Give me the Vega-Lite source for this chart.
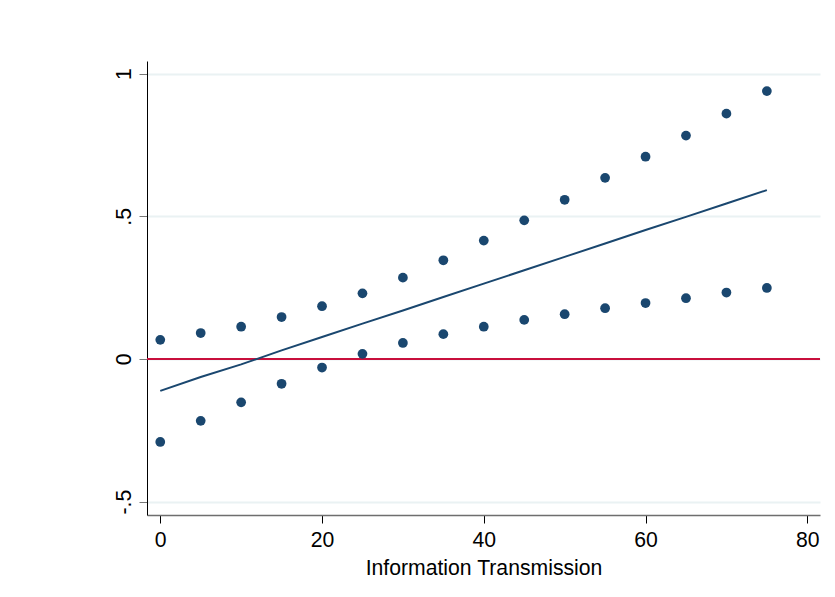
{
  "$schema": "https://vega.github.io/schema/vega-lite/v6.json",
  "autosize": "none",
  "padding": {"left": 147, "top": 61, "right": 15, "bottom": 82},
  "width": 673,
  "height": 454,
  "background": "white",
  "config": {
    "view": {"stroke": null},
    "font": "Liberation Sans",
    "axis": {"labelFont": "Liberation Sans", "titleFont": "Liberation Sans", "labelColor": "black", "titleColor": "black"}
  },
  "data": {
    "values": [
      {"x": 0, "upper": 0.067, "lower": -0.291, "est": -0.112},
      {"x": 5, "upper": 0.091, "lower": -0.217, "est": -0.063},
      {"x": 10, "upper": 0.113, "lower": -0.152, "est": -0.019},
      {"x": 15, "upper": 0.147, "lower": -0.087, "est": 0.030},
      {"x": 20, "upper": 0.185, "lower": -0.030, "est": 0.077},
      {"x": 25, "upper": 0.230, "lower": 0.018, "est": 0.124},
      {"x": 30, "upper": 0.285, "lower": 0.056, "est": 0.170},
      {"x": 35, "upper": 0.346, "lower": 0.087, "est": 0.217},
      {"x": 40, "upper": 0.415, "lower": 0.113, "est": 0.264},
      {"x": 45, "upper": 0.486, "lower": 0.137, "est": 0.311},
      {"x": 50, "upper": 0.558, "lower": 0.157, "est": 0.358},
      {"x": 55, "upper": 0.635, "lower": 0.178, "est": 0.405},
      {"x": 60, "upper": 0.709, "lower": 0.196, "est": 0.452},
      {"x": 65, "upper": 0.783, "lower": 0.213, "est": 0.498},
      {"x": 70, "upper": 0.860, "lower": 0.233, "est": 0.545},
      {"x": 75, "upper": 0.939, "lower": 0.249, "est": 0.592}
    ]
  },
  "encoding": {
    "x": {
      "field": "x",
      "type": "quantitative",
      "scale": {"domain": [-1.64, 81.57], "nice": false, "zero": false},
      "axis": {
        "title": "Information Transmission",
        "values": [0, 20, 40, 60, 80],
        "grid": false,
        "domainColor": "#6e6e6e",
        "domainWidth": 1.5,
        "tickColor": "black",
        "tickSize": 8,
        "tickWidth": 1,
        "labelFontSize": 21.2,
        "labelPadding": 6,
        "titleFontSize": 21.2,
        "titleFontWeight": "normal",
        "titlePadding": 7
      }
    }
  },
  "layer": [
    {
      "mark": {"type": "rule", "color": "#c80f3c", "strokeWidth": 2},
      "encoding": {"y": {"datum": 0, "type": "quantitative"}, "x": {"value": 0}, "x2": {"value": 673}}
    },
    {
      "mark": {"type": "line", "color": "#1a476f", "strokeWidth": 2},
      "encoding": {
        "y": {
          "field": "est",
          "type": "quantitative",
          "scale": {"domain": [-0.547, 1.0446], "nice": false, "zero": false},
          "axis": {
            "title": null,
            "values": [-0.5, 0, 0.5, 1],
            "labelExpr": "datum.value == 1 ? '1' : datum.value == 0.5 ? '.5' : datum.value == 0 ? '0' : '-.5'",
            "labelAngle": -90,
            "labelAlign": "center",
            "labelBaseline": "alphabetic",
            "labelFontSize": 21.2,
            "labelPadding": 9,
            "tickSize": 8,
            "tickColor": "#777777",
            "domainColor": "black",
            "domainWidth": 1,
            "grid": true,
            "gridColor": "#eaf2f3",
            "gridWidth": 2
          }
        }
      }
    },
    {
      "mark": {"type": "point", "filled": true, "color": "#1a476f", "size": 95, "opacity": 1},
      "encoding": {"y": {"field": "upper", "type": "quantitative"}}
    },
    {
      "mark": {"type": "point", "filled": true, "color": "#1a476f", "size": 95, "opacity": 1},
      "encoding": {"y": {"field": "lower", "type": "quantitative"}}
    }
  ]
}
